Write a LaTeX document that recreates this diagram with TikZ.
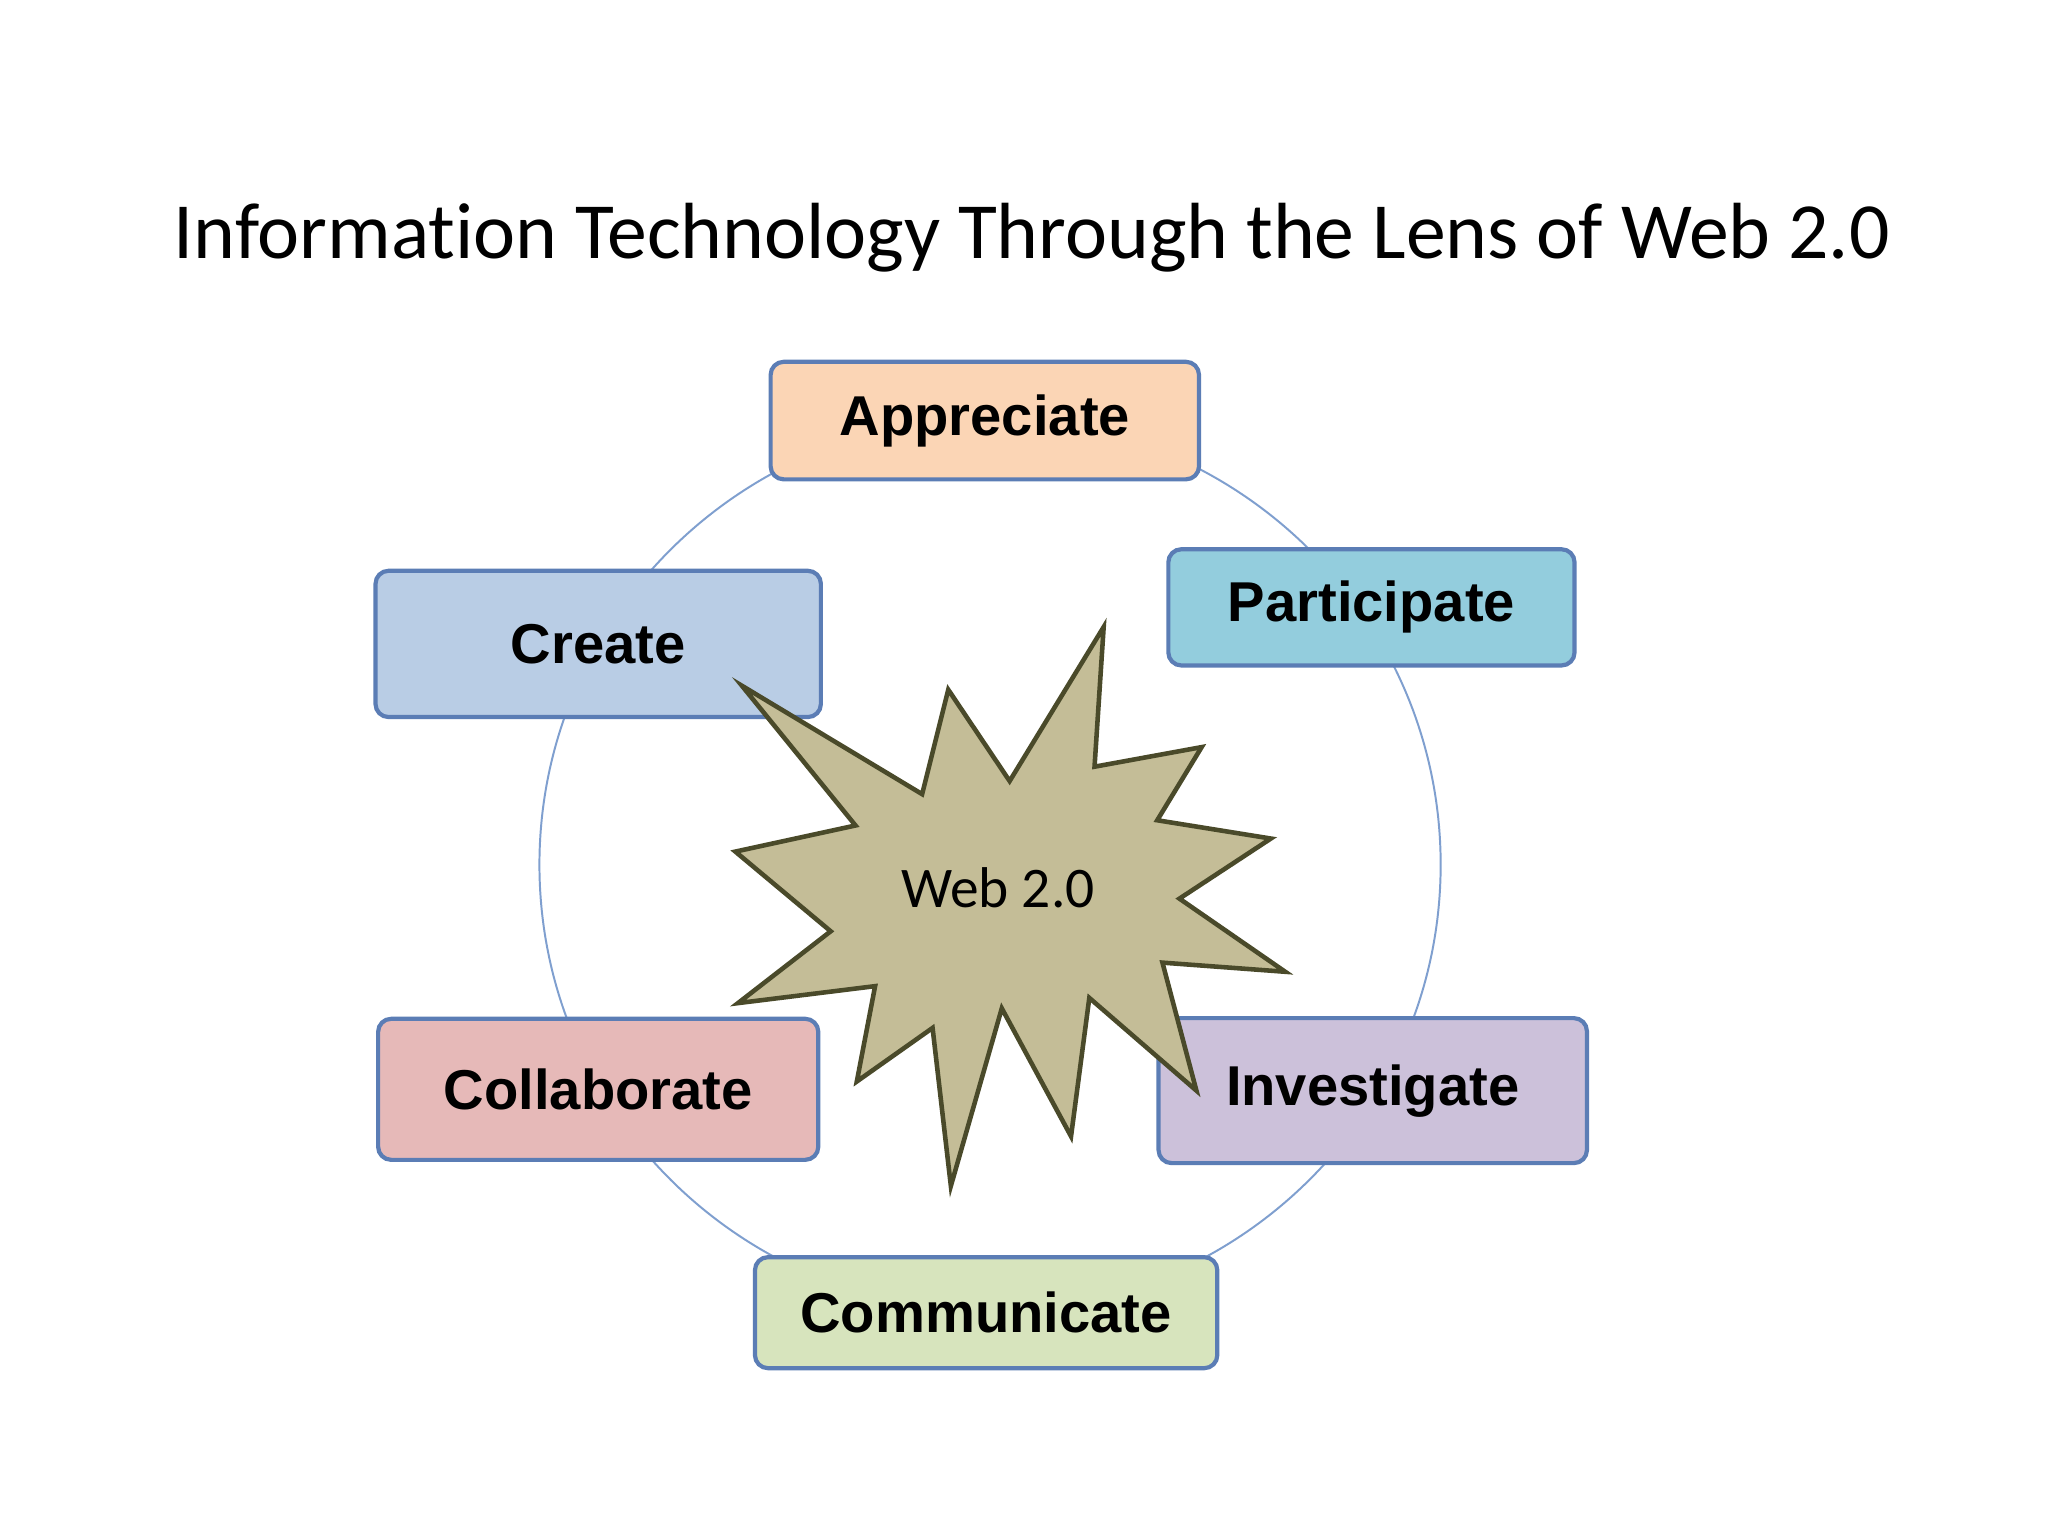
\documentclass[tikz,border=0pt]{standalone}
\usepackage{fontspec}
\setmainfont[Ligatures=CommonOff]{Carlito}
\newfontfamily\arialb{Liberation Sans}
\definecolor{bord}{HTML}{5B7DB5}
\definecolor{ring}{HTML}{7F9FCF}
\definecolor{starfill}{HTML}{C4BD97}
\definecolor{starline}{HTML}{4A4A2A}
\begin{document}
\begin{tikzpicture}[x=1pt,y=-1pt,
  lbox/.style={draw=bord,line width=3.2pt,rounded corners=10pt,font=\arialb\bfseries\fontsize{43}{50}\selectfont}]
\useasboundingbox[fill=white] (0,0) rectangle (1568,1176);
\node (title) at (790,182) {\fontsize{61}{70}\selectfont Information Technology Through the Lens of Web 2.0};
\draw[ring,line width=1.5pt] (758,662) ellipse [x radius=345,y radius=342];
\node[lbox,fill={rgb,255:red,251;green,213;blue,181},minimum width=328pt,minimum height=90pt] (app) at (754,322) {Appreciate};
\node[lbox,fill={rgb,255:red,147;green,205;blue,221},minimum width=311pt,minimum height=89pt] (par) at (1050,465) {Participate};
\node[lbox,fill={rgb,255:red,185;green,205;blue,229},minimum width=341pt,minimum height=112pt] (cre) at (458,493) {Create};
\node[lbox,fill={rgb,255:red,230;green,185;blue,184},minimum width=337pt,minimum height=108pt] (col) at (458,834) {Collaborate};
\node[lbox,fill={rgb,255:red,204;green,193;blue,218},minimum width=328pt,minimum height=111pt] (inv) at (1051,835) {Investigate};
\node[lbox,fill={rgb,255:red,215;green,228;blue,189},minimum width=354pt,minimum height=85pt] (com) at (755,1005) {Communicate};
\draw[fill=starfill,draw=starline,line width=3.5pt,line join=miter]
 (845,480)--(838,587)--(920,572)--(886,628)--(973,642)--(903,688)--(984,744)--(890,737)--(916,835)--(834,764)--(820,870)--(767,772)--(728,908)--(714,787)--(656,828)--(670,755)--(565,768)--(636,713)--(563,652)--(655,632)--(568,525)--(706,608)--(726,528)--(773,598)--cycle;
\node (web) at (764,680) {\fontsize{44}{50}\selectfont Web 2.0};
\end{tikzpicture}
\end{document}
